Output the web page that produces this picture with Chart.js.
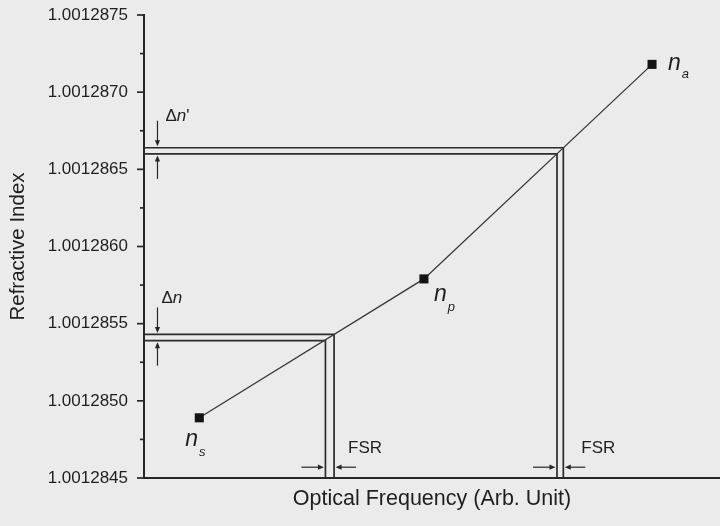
<!DOCTYPE html>
<html>
<head>
<meta charset="utf-8">
<script src="https://cdn.jsdelivr.net/npm/chart.js@4/dist/chart.umd.min.js"></script>
<style>
  html, body { margin: 0; padding: 0; background: #ebebeb; overflow: hidden; }
  #wrap { width: 720px; height: 526px; position: relative; overflow: hidden; }
  canvas { display: block; }
</style>
</head>
<body>
<div id="wrap"><canvas id="chart" width="720" height="526"></canvas></div>
<script>
// Refractive index axis ticks
const indexTickValues = [1.0012845, 1.0012850, 1.0012855, 1.0012860, 1.0012865, 1.0012870, 1.0012875];
const indexTickLabels = ['1.0012845', '1.0012850', '1.0012855', '1.0012860', '1.0012865', '1.0012870', '1.0012875'];
const indexMinorTicks = [1.00128475, 1.00128525, 1.00128575, 1.00128625, 1.00128675, 1.00128725];

// Signal, pump and anti-Stokes modes (frequency in arbitrary units)
const modeFrequency = [0.96, 4.86, 8.82];
const modeIndex = [1.00128489, 1.00128579, 1.00128718];
const modeNames = ['s', 'p', 'a'];

// Double L-steps marking one FSR: inner and outer edge of each step
const stepFrequency = [3.15, 3.30, 7.17, 7.28];
const stepIndex = [1.00128539, 1.00128543, 1.00128660, 1.00128664];

const FONT = "'Liberation Sans', Arial, Helvetica, sans-serif";
const INK = '#1f1f1f';
const Y_MIN = indexTickValues[0];
const Y_MAX = indexTickValues[indexTickValues.length - 1];

function stepDataset(k) {
  return {
    data: [
      { x: 0, y: stepIndex[k] },
      { x: stepFrequency[k], y: stepIndex[k] },
      { x: stepFrequency[k], y: Y_MIN }
    ],
    showLine: true,
    borderColor: '#2b2b2b',
    borderWidth: 1.7,
    pointRadius: 0,
    fill: false
  };
}

function arrow(ctx, x1, y1, x2, y2) {
  const ang = Math.atan2(y2 - y1, x2 - x1);
  const hl = 6, hw = 2.6;
  ctx.beginPath();
  ctx.moveTo(x1, y1);
  ctx.lineTo(x2 - Math.cos(ang) * hl * 0.6, y2 - Math.sin(ang) * hl * 0.6);
  ctx.stroke();
  ctx.beginPath();
  ctx.moveTo(x2, y2);
  ctx.lineTo(x2 - Math.cos(ang) * hl - Math.sin(ang) * hw, y2 - Math.sin(ang) * hl + Math.cos(ang) * hw);
  ctx.lineTo(x2 - Math.cos(ang) * hl + Math.sin(ang) * hw, y2 - Math.sin(ang) * hl - Math.cos(ang) * hw);
  ctx.closePath();
  ctx.fill();
}

function richText(ctx, x, y, parts) {
  let cx = x;
  parts.forEach(p => {
    ctx.font = (p.italic ? 'italic ' : '') + p.size + 'px ' + FONT;
    ctx.fillText(p.t, cx, y + (p.dy || 0));
    cx += ctx.measureText(p.t).width + (p.gap || 0);
  });
}

const decorations = {
  id: 'decorations',
  afterDatasetsDraw(chart) {
    const { ctx, chartArea } = chart;
    const xs = chart.scales.x, ys = chart.scales.y;
    ctx.save();
    ctx.strokeStyle = '#262626';
    ctx.fillStyle = '#262626';
    ctx.lineWidth = 1.7;

    // outward tick marks on the index axis
    const left = chartArea.left;
    indexTickValues.forEach(v => {
      const py = ys.getPixelForValue(v);
      ctx.beginPath(); ctx.moveTo(left - 7, py); ctx.lineTo(left, py); ctx.stroke();
    });
    indexMinorTicks.forEach(v => {
      const py = ys.getPixelForValue(v);
      ctx.beginPath(); ctx.moveTo(left - 4, py); ctx.lineTo(left, py); ctx.stroke();
    });

    // Δn and Δn' spacing arrows
    ctx.lineWidth = 1.2;
    const ax = xs.getPixelForValue(0.234);
    [[0, 1], [2, 3]].forEach(([inner, outer]) => {
      const yOut = ys.getPixelForValue(stepIndex[outer]);
      const yIn = ys.getPixelForValue(stepIndex[inner]);
      arrow(ctx, ax, yOut - 27, ax, yOut - 1.5);
      arrow(ctx, ax, yIn + 25, ax, yIn + 1.5);
    });

    // FSR arrows along the frequency axis
    const fy = ys.getPixelForValue(1.00128457);
    [[0, 1], [2, 3]].forEach(([inner, outer]) => {
      const xIn = xs.getPixelForValue(stepFrequency[inner]);
      const xOut = xs.getPixelForValue(stepFrequency[outer]);
      arrow(ctx, xIn - 24, fy, xIn - 1.5, fy);
      arrow(ctx, xOut + 22, fy, xOut + 1.5, fy);
    });

    // labels
    ctx.fillStyle = INK;
    ctx.textBaseline = 'alphabetic';
    ctx.textAlign = 'left';
    const yLo = ys.getPixelForValue(stepIndex[1]);
    const yHi = ys.getPixelForValue(stepIndex[3]);
    richText(ctx, ax + 4, yLo - 31, [{ t: 'Δ', size: 17 }, { t: 'n', size: 17, italic: true }]);
    richText(ctx, ax + 8, yHi - 27, [{ t: 'Δ', size: 17 }, { t: 'n', size: 17, italic: true }, { t: "'", size: 17 }]);

    ctx.font = '17px ' + FONT;
    ctx.fillText('FSR', xs.getPixelForValue(stepFrequency[1]) + 14, fy - 14);
    ctx.fillText('FSR', xs.getPixelForValue(stepFrequency[3]) + 18, fy - 14);

    const place = {
      s: { dx: -14, dy: 28, sub: 10 },
      p: { dx: 10, dy: 22, sub: 10 },
      a: { dx: 16, dy: 6, sub: 8 }
    };
    modeNames.forEach((name, i) => {
      const px = xs.getPixelForValue(modeFrequency[i]);
      const py = ys.getPixelForValue(modeIndex[i]);
      const p = place[name];
      richText(ctx, px + p.dx, py + p.dy, [
        { t: 'n', size: 23, italic: true, gap: 1 },
        { t: name, size: 13, italic: true, dy: p.sub }
      ]);
    });
    ctx.restore();
  }
};

new Chart(document.getElementById('chart'), {
  type: 'scatter',
  data: {
    datasets: [
      {
        data: modeFrequency.map((f, i) => ({ x: f, y: modeIndex[i] })),
        showLine: true,
        borderColor: '#383838',
        borderWidth: 1.3,
        pointStyle: 'rect',
        pointRadius: 6.4,
        pointBackgroundColor: '#141414',
        pointBorderWidth: 0
      },
      stepDataset(0), stepDataset(1), stepDataset(2), stepDataset(3)
    ]
  },
  options: {
    responsive: false,
    maintainAspectRatio: false,
    animation: false,
    devicePixelRatio: 1,
    layout: { autoPadding: false, padding: { top: 15, left: 0, right: 0, bottom: 0 } },
    plugins: { legend: { display: false }, tooltip: { enabled: false } },
    scales: {
      x: {
        type: 'linear',
        min: 0,
        max: 10,
        grid: { display: false },
        border: { display: true, color: '#262626', width: 2 },
        ticks: { display: false },
        title: {
          display: true,
          text: 'Optical Frequency (Arb. Unit)',
          color: INK,
          font: { family: FONT, size: 21.5 },
          padding: { top: 0, bottom: 14 }
        },
        afterFit(s) { s.height = 48; s.paddingLeft = 0; s.paddingRight = 0; }
      },
      y: {
        type: 'linear',
        min: Y_MIN,
        max: Y_MAX,
        grid: { display: false },
        border: { display: true, color: '#262626', width: 2 },
        afterBuildTicks(s) { s.ticks = indexTickValues.map(v => ({ value: v })); },
        ticks: {
          autoSkip: false,
          padding: 8,
          color: INK,
          font: { family: FONT, size: 17 },
          callback: (v, i) => indexTickLabels[i]
        },
        title: {
          display: true,
          text: 'Refractive Index',
          color: INK,
          font: { family: FONT, size: 20.5 },
          padding: { top: 6, bottom: 0 }
        },
        afterFit(s) { s.width = 144; s.paddingTop = 0; s.paddingBottom = 0; }
      }
    }
  },
  plugins: [decorations]
});
</script>
</body>
</html>
